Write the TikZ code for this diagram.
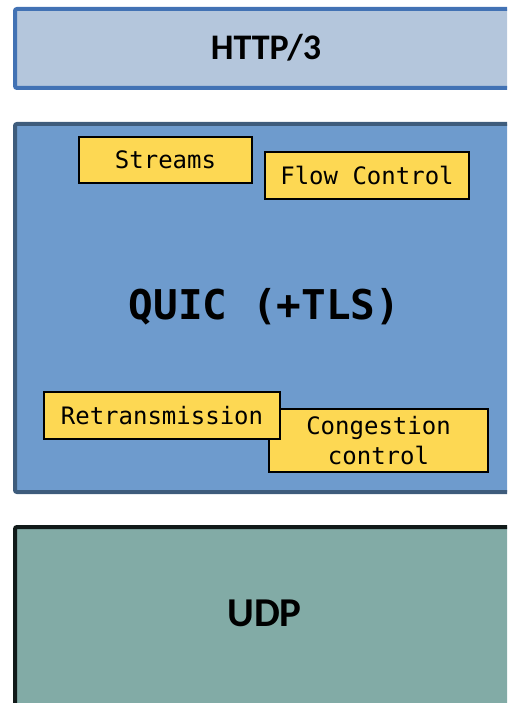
\documentclass[tikz,border=0pt]{standalone}
\usepackage{fontspec}
\setmonofont{DejaVu Sans Mono}
\newfontfamily\layerfont{Carlito}
\definecolor{httpfill}{HTML}{B4C6DC}
\definecolor{httpline}{HTML}{4272B4}
\definecolor{quicfill}{HTML}{6E9BCD}
\definecolor{quicline}{HTML}{3E5C7C}
\definecolor{udpfill}{HTML}{82ABA6}
\definecolor{udpline}{HTML}{111A19}
\definecolor{featfill}{HTML}{FDD853}
\begin{document}
\begin{tikzpicture}[x=1pt, y=-1pt,
  layer/.style={draw, line width=4pt, rounded corners=2pt, rectangle, anchor=north west, minimum width=540pt},
  feature/.style={draw=black, fill=featfill, line width=2pt, rectangle, inner sep=0pt, align=center,
    font=\ttfamily\fontsize{24}{30}\selectfont}]
\useasboundingbox (0,0) rectangle (507,703);
\clip (0,0) rectangle (507,703);
% layers
\node[layer, fill=httpfill, draw=httpline, minimum height=79pt] (H) at (13,7) {};
\node[layer, fill=quicfill, draw=quicline, minimum height=368pt] (Q) at (13,122) {};
\node[layer, fill=udpfill, draw=udpline, minimum height=180pt] (U) at (13,525) {};
\node[font=\layerfont\bfseries\fontsize{36}{40}\selectfont] (Ht) at (266,48) {HTTP/3};
\node[font=\ttfamily\bfseries\fontsize{41}{46}\selectfont] (Qt) at (264.5,307) {QUIC (+TLS)};
\node[font=\layerfont\bfseries\fontsize{41}{46}\selectfont] (Ut) at (264.5,613) {UDP};
% features
\node[feature, minimum width=173pt, minimum height=46pt] (St) at (165.5,160) {Streams};
\node[feature, minimum width=204pt, minimum height=47pt] (FC) at (367,175.5) {Flow Control};
\node[feature, minimum width=219pt, minimum height=63pt] (CC) at (378.5,440.5) {Congestion\\control};
\node[feature, minimum width=236pt, minimum height=47pt] (Re) at (162,415.5) {Retransmission};
\end{tikzpicture}
\end{document}
